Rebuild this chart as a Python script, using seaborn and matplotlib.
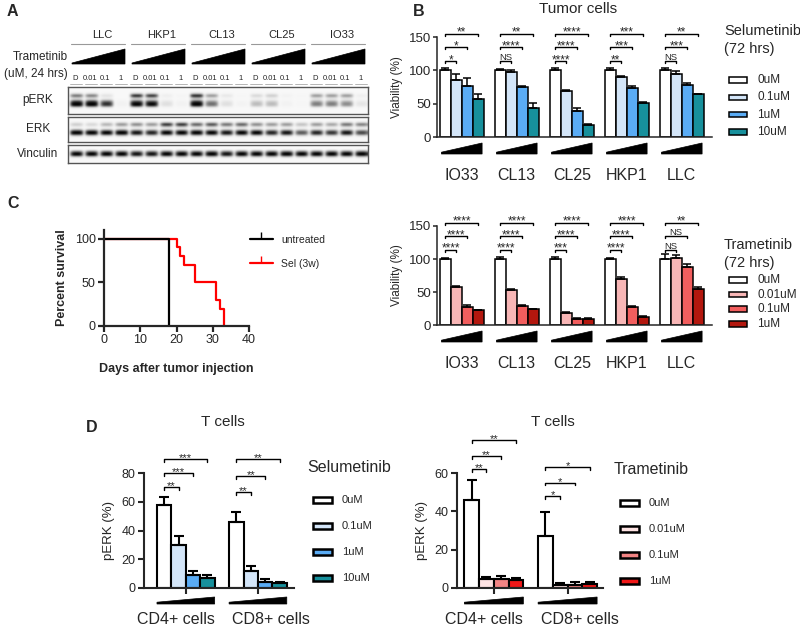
import numpy as np
import pandas as pd
import seaborn as sns
import matplotlib.pyplot as plt
import matplotlib.transforms as mtransforms
from matplotlib.patches import Polygon, Rectangle
from matplotlib.lines import Line2D

# ---------------- data ----------------
# A: western blot band intensities (0 = none, 1 = saturated), 20 lanes
blot_lines = ["LLC", "HKP1", "CL13", "CL25", "IO33"]
blot_lanes = ["D", "0.01", "0.1", "1"]
perk_upper = [0.60, 0.55, 0.15, 0.00, 0.85, 0.80, 0.08, 0.03, 0.95, 0.45,
              0.12, 0.02, 0.20, 0.25, 0.05, 0.02, 0.45, 0.45, 0.45, 0.08]
perk_lower = [1.00, 1.00, 0.75, 0.05, 0.95, 0.90, 0.15, 0.05, 1.00, 0.55,
              0.15, 0.04, 0.30, 0.30, 0.05, 0.02, 0.50, 0.50, 0.45, 0.12]
erk_upper = [0.25, 0.20, 0.35, 0.45, 0.50, 0.45, 0.80, 0.80, 0.65, 0.70,
             0.60, 0.65, 0.50, 0.45, 0.45, 0.30, 0.45, 0.40, 0.60, 0.55]
erk_lower = [0.95, 0.90, 0.85, 0.95, 0.80, 0.75, 0.85, 0.85, 0.90, 0.85,
             0.80, 0.85, 0.85, 0.75, 0.80, 0.60, 0.75, 0.70, 0.80, 0.65]
vinculin = [0.85, 0.85, 0.85, 0.85, 0.80, 0.80, 0.85, 0.85, 0.85, 0.90,
            0.80, 0.85, 0.85, 0.85, 0.90, 0.85, 0.85, 0.85, 0.85, 0.90]

# B: tumor cell viability (%)
tumor_lines = ["IO33", "CL13", "CL25", "HKP1", "LLC"]
sel_doses = ["0uM", "0.1uM", "1uM", "10uM"]
sel_mean = [[100, 100, 100, 100, 100],
            [86, 97, 69, 90, 95],
            [77, 75, 39, 73, 78],
            [57, 44, 18, 51, 64]]
sel_sem = [[4, 2, 3, 4, 3],
           [8, 3, 2, 1, 4],
           [12, 2, 4, 4, 3],
           [7, 7, 2, 1, 1]]
sel_sig = [["*", "*", "**"], ["NS", "****", "**"], ["****", "****", "****"],
           ["**", "***", "***"], ["NS", "***", "**"]]

tram_doses = ["0uM", "0.01uM", "0.1uM", "1uM"]
tram_mean = [[100, 100, 100, 100, 100],
             [57, 53, 18, 70, 101],
             [28, 29, 9, 28, 88],
             [22, 24, 9, 12, 54]]
tram_sem = [[2, 3, 3, 2, 8],
            [2, 2, 1, 3, 5],
            [2, 2, 1, 1, 4],
            [1, 1, 1, 1, 4]]
tram_sig = [["****", "****", "****"], ["****", "****", "****"],
            ["***", "****", "****"], ["****", "****", "****"],
            ["NS", "NS", "**"]]

# C: survival
untreated_days = [0, 18]
untreated_surv = [100, 0]
sel3w_days = [0, 20, 21, 22, 25, 31, 32, 33]
sel3w_surv = [100, 90, 80, 70, 50, 30, 20, 0]

# D: T cells pERK (%)
tcell_groups = ["CD4+ cells", "CD8+ cells"]
tsel_mean = [[58, 46], [30, 12], [9, 4.5], [7, 3.5]]
tsel_sem = [[5, 7], [6, 3], [3, 1.5], [2, 1]]
tsel_sig = [["**", "***", "***"], ["**", "**", "**"]]
ttram_mean = [[46, 27], [4.5, 1.7], [4.5, 1.7], [4.2, 2.1]]
ttram_sem = [[10.5, 12.5], [1.5, 0.9], [2, 1.2], [0.8, 0.8]]
ttram_sig = [["**", "**", "**"], ["*", "*", "*"]]

sel_colors = ["#ffffff", "#d3e5f8", "#5aacf5", "#17909c"]
tram_colors = ["#ffffff", "#f8b6b6", "#f25e5e", "#b3170e"]
ttram_colors = ["#ffffff", "#fde2e2", "#f28484", "#f01818"]

# ---------------- figure ----------------
sns.set_theme(style="ticks")
plt.rcParams["font.family"] = ["Liberation Sans", "DejaVu Sans"]

W, H = 800, 628
fig = plt.figure(figsize=(W / 100, H / 100), dpi=100)


def add_ax(x0, y0, x1, y1):
    return fig.add_axes([x0 / W, 1 - y1 / H, (x1 - x0) / W, (y1 - y0) / H])


def ftext(x, y, s, **kw):
    fig.text(x / W, 1 - y / H, s, **kw)


# overlay in pixel coordinates for panel labels, blot annotations, legends
deco = fig.add_axes([0, 0, 1, 1])
deco.set_xlim(0, W)
deco.set_ylim(H, 0)
deco.axis("off")
deco.patch.set_visible(False)
deco.set_zorder(5)

for lab, x, y in [("A", 7, 12), ("B", 413, 12), ("C", 7, 203), ("D", 86, 427)]:
    ftext(x, y, lab, fontsize=11.5, fontweight="bold", va="center")

# ---------------- A: blot ----------------
blot_x0, blot_x1 = 68, 368
lane_w = (blot_x1 - blot_x0) / 20
lane_cols = [0.0, 0.8, 1.0, 1.0, 1.0, 0.8]


def blot_image(bands, profiles):
    n = len(lane_cols)
    img = np.zeros((len(profiles[0]), 20 * n))
    for vals, prof in zip(bands, profiles):
        for i, v in enumerate(vals):
            img[:, n * i:n * (i + 1)] += v * np.outer(prof, lane_cols)
    return np.clip(img, 0, 1)


blots = [
    ("pERK", 87, 114, [perk_upper, perk_lower],
     [[0, 0, 0, 0.3, 1, 0.4, 0, 0, 0, 0, 0, 0, 0, 0],
      [0, 0, 0, 0, 0, 0, 0.2, 0.7, 1, 0.9, 0.2, 0, 0, 0]]),
    ("ERK", 117, 142, [erk_upper, erk_lower],
     [[0, 0, 0, 0.3, 1, 0.5, 0, 0, 0, 0, 0, 0, 0, 0],
      [0, 0, 0, 0, 0, 0, 0, 0.4, 1, 1, 0.3, 0, 0, 0]]),
    ("Vinculin", 145, 163, [vinculin], [[0, 0, 0, 0.5, 1, 1, 0.3, 0, 0, 0]]),
]
for name, y0, y1, bands, profs in blots:
    bax = add_ax(blot_x0, y0, blot_x1, y1)
    bax.imshow(blot_image(bands, profs), cmap="Greys", vmin=-0.05, vmax=0.85,
               aspect="auto", interpolation="bicubic", extent=[0, 20, 1, 0])
    bax.set_xticks([])
    bax.set_yticks([])
    for sp in bax.spines.values():
        sp.set_color("#555555")
        sp.set_linewidth(1.0)
    ftext(38, (y0 + y1) / 2, name, fontsize=8.5, ha="center", va="center")

for k, name in enumerate(blot_lines):
    gx0 = blot_x0 + 4 * k * lane_w + 3
    gx1 = blot_x0 + 4 * (k + 1) * lane_w - 3
    deco.text((gx0 + gx1) / 2 + 4, 35, name, fontsize=8, ha="center", va="center")
    deco.plot([gx0, gx1], [44, 44], color="#999999", lw=0.8)
    deco.add_patch(Polygon([(gx0 + 1, 64), (gx1, 64), (gx1, 49), (gx0 + 1, 63)],
                           closed=True, facecolor="black", edgecolor="black", lw=0.5))
    for j, lane in enumerate(blot_lanes):
        cx = blot_x0 + (4 * k + j + 0.5) * lane_w
        deco.text(cx, 78, lane, fontsize=5.5, ha="center", va="center")
        deco.plot([cx - 6, cx + 6], [84, 84], color="#aaaaaa", lw=0.6)

ftext(68, 57, "Trametinib", fontsize=8.5, ha="right", va="center")
ftext(68, 74, "(uM, 24 hrs)", fontsize=8.5, ha="right", va="center")


# ---------------- helpers for bar panels ----------------
def bar_panel(ax, groups, doses, means, sems, colors, lw, cap):
    rows = []
    for j, d in enumerate(doses):
        for i, g in enumerate(groups):
            rows.append({"group": g, "dose": d, "value": means[j][i]})
    df = pd.DataFrame(rows)
    sns.barplot(data=df, x="group", y="value", hue="dose", order=groups,
                hue_order=doses, palette=colors, saturation=1, width=0.8,
                edgecolor="black", linewidth=lw, errorbar=None, legend=False, ax=ax)
    offsets = (np.arange(len(doses)) - 1.5) * 0.2
    for j in range(len(doses)):
        xs = np.arange(len(groups)) + offsets[j]
        ax.errorbar(xs, means[j], yerr=[np.zeros(len(groups)), sems[j]], fmt="none",
                    ecolor="black", elinewidth=lw, capsize=cap, capthick=lw, zorder=3)
    ax.set_xlabel("")
    sns.despine(ax=ax)
    for sp in ["left", "bottom"]:
        ax.spines[sp].set_linewidth(lw)
    return offsets


def brackets(ax, offsets, sig, levels, tick, fs, ns_fs):
    for g, labels in enumerate(sig):
        x0 = g + offsets[0]
        for k, lab in enumerate(labels):
            x1 = g + offsets[k + 1]
            y = levels[g][k]
            ax.plot([x0, x0, x1, x1], [y - tick, y, y, y - tick], color="black",
                    lw=1.0, clip_on=False)
            size = ns_fs if lab == "NS" else fs
            dy = 0.4 if lab == "NS" else -1.5
            ax.annotate(lab, ((x0 + x1) / 2, y), xytext=(0, dy),
                        textcoords="offset points", ha="center", va="baseline",
                        fontsize=size, annotation_clip=False)


def wedges(ax, n, top_px, bot_px, ax_h, half):
    trans = mtransforms.blended_transform_factory(ax.transData, ax.transAxes)
    for g in range(n):
        yb = -bot_px / ax_h
        yt = -top_px / ax_h
        ytip = yb + 1.8 / ax_h
        ax.add_patch(Polygon([(g - half, yb), (g + half, yb), (g + half, yt), (g - half, ytip)],
                             closed=True, transform=trans, facecolor="black",
                             edgecolor="black", lw=0.5, clip_on=False))


def group_labels(ax, groups, shifts, y_pts, fs):
    trans = mtransforms.blended_transform_factory(ax.transData, ax.transAxes)
    for g, (name, sh) in enumerate(zip(groups, shifts)):
        ax.annotate(name, (g, 0), xycoords=trans, xytext=(sh, -y_pts),
                    textcoords="offset points", ha="center", va="top",
                    fontsize=fs, annotation_clip=False)


def bar_legend(doses, colors, title_lines, tx, ty, title_step, px, py, step,
               pw, ph, lw, fs, title_fs):
    for i, t in enumerate(title_lines):
        deco.text(tx, ty + i * title_step, t, fontsize=title_fs, ha="left", va="center")
    for j, (d, c) in enumerate(zip(doses, colors)):
        yy = py + j * step
        deco.add_patch(Rectangle((px, yy - ph / 2), pw, ph, facecolor=c,
                                 edgecolor="black", lw=lw))
        deco.text(px + pw + 10, yy, d, fontsize=fs, ha="left", va="center")


# ---------------- B: tumor cells ----------------
for (y0, y1, doses, means, sems, colors, sig, title, ty, py, step) in [
        (37, 137, sel_doses, sel_mean, sel_sem, sel_colors, sel_sig,
         ["Selumetinib", "(72 hrs)"], 31, 80, 17.3),
        (226, 325, tram_doses, tram_mean, tram_sem, tram_colors, tram_sig,
         ["Trametinib", "(72 hrs)"], 245, 280, 14.6)]:
    ax = add_ax(437, y0, 712, y1)
    offs = bar_panel(ax, tumor_lines, doses, means, sems, colors, 1.1, 3)
    ax.set_ylim(0, 150)
    ax.set_xlim(-0.45, 4.55)
    ax.set_yticks([0, 50, 100, 150])
    ax.set_xticklabels([])
    ax.tick_params(axis="y", labelsize=9.5, length=3, width=1.1, pad=1.5)
    ax.tick_params(axis="x", length=0)
    ax.set_ylabel("Viability (%)", fontsize=8.5, labelpad=4)
    brackets(ax, offs, sig, [[114, 135, 155]] * 5, 3.5, 8.5, 6.8)
    wedges(ax, 5, 6, 17, y1 - y0, 0.37)
    group_labels(ax, tumor_lines, [0] * 5, 22, 11.5)
    bar_legend(doses, colors, title, 724, ty, 18, 729, py, step, 18, 5.5, 1.1,
               8.5, 10.5)

ftext(578, 9, "Tumor cells", fontsize=11, ha="center", va="center")

# ---------------- C: survival ----------------
axc = add_ax(104, 230, 249, 326)
axc.step(sel3w_days, sel3w_surv, where="post", color="#ff0000", lw=1.6)
axc.step(untreated_days, untreated_surv, where="post", color="black", lw=1.6)
axc.set_xlim(0, 40)
axc.set_ylim(0, 110)
axc.set_xticks([0, 10, 20, 30, 40])
axc.set_yticks([0, 50, 100])
sns.despine(ax=axc)
for sp in ["left", "bottom"]:
    axc.spines[sp].set_linewidth(1.6)
axc.tick_params(labelsize=9, length=4, width=1.6, pad=2)
axc.set_xlabel("Days after tumor injection", fontsize=9, fontweight="bold", labelpad=12)
axc.set_ylabel("Percent survival", fontsize=9, fontweight="bold", labelpad=5)
c_handles = [Line2D([0], [0], color="black", lw=1.6, marker=2, markersize=5),
             Line2D([0], [0], color="#ff0000", lw=1.6, marker=2, markersize=5)]
fig.legend(c_handles, ["untreated", "Sel (3w)"], loc="upper left",
           bbox_to_anchor=(250 / W, 1 - 235 / H), frameon=False, fontsize=7.5,
           handlelength=2.2, labelspacing=1.3, borderpad=0, borderaxespad=0)

# ---------------- D: T cells ----------------
for (x0, x1, xlim, ymax, means, sems, doses, colors, sig, levels, title,
     title_x, tx, ty, px, py) in [
        (144, 294, (-0.58, 1.5), 80, tsel_mean, tsel_sem, sel_doses, sel_colors,
         tsel_sig, [[70, 80, 90], [67, 78, 90]], "Selumetinib", 223, 307, 468,
         313, 500),
        (457, 603, (-0.5, 1.48), 60, ttram_mean, ttram_sem, tram_doses, ttram_colors,
         ttram_sig, [[62, 69, 77], [48, 55, 63]], "Trametinib", 553, 614, 470,
         620, 503)]:
    ax = add_ax(x0, 473, x1, 588)
    offs = bar_panel(ax, tcell_groups, doses, means, sems, colors, 1.5, 3.5)
    ax.set_ylim(0, ymax)
    ax.set_xlim(*xlim)
    ax.set_yticks(np.arange(0, ymax + 1, 20))
    ax.set_xticklabels([])
    ax.tick_params(axis="y", labelsize=9, length=4, width=1.5, pad=2)
    ax.tick_params(axis="x", length=4, width=1.5)
    ax.set_ylabel("pERK (%)", fontsize=9.5, labelpad=5)
    brackets(ax, offs, sig, levels, ymax * 0.025, 8, 7.5)
    wedges(ax, 2, 9, 16, 115, 0.4)
    group_labels(ax, tcell_groups, [-7, 9], 17, 11.5)
    ftext(title_x, 422, "T cells", fontsize=11, ha="center", va="center")
    bar_legend(doses, colors, [title], tx, ty, 0, px, py, 26, 19, 6, 1.8,
               8, 11.5)

fig.savefig("out.png", dpi=100)
